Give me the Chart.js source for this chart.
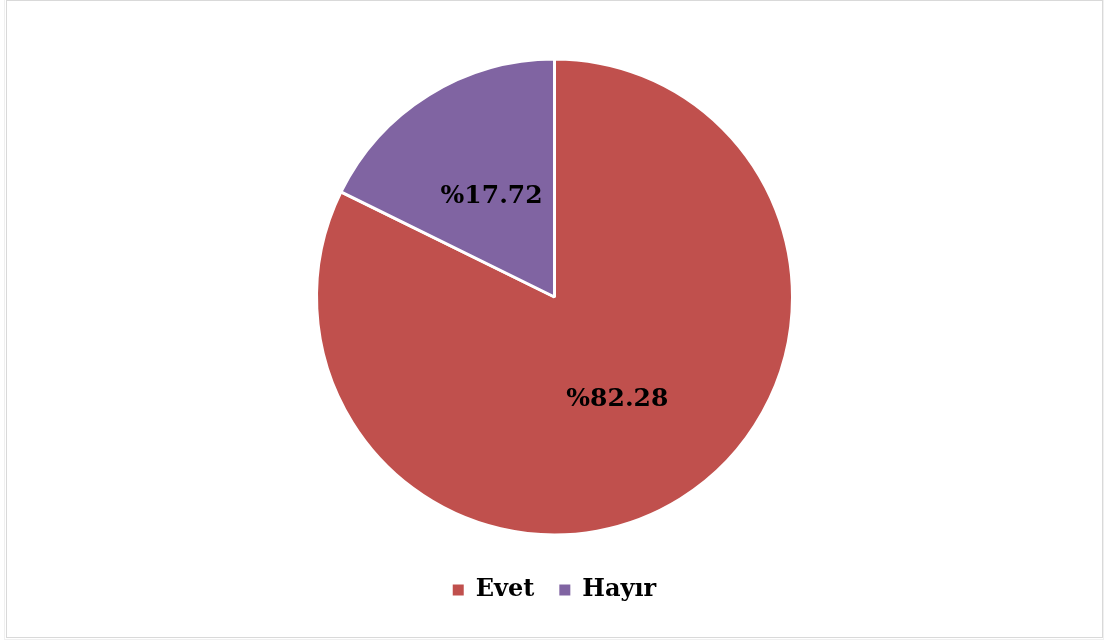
<!DOCTYPE html>
<html>
<head>
<meta charset="utf-8">
<script src="https://cdn.jsdelivr.net/npm/chart.js@4/dist/chart.umd.min.js"></script>
<style>
  html, body { margin: 0; padding: 0; background: #ffffff; }
  #wrap { width: 1107px; height: 641px; position: relative; }
</style>
</head>
<body>
<div id="wrap"><canvas id="chart" width="1107" height="641"></canvas></div>
<script>
// Survey answers (percent)
const categories = ['Evet', 'Hayır'];
const values = [82.28, 17.72];
const sliceColors = ['#C0504D', '#8064A2'];

const labelFont = { family: '"DejaVu Serif", serif', weight: 'bold', size: 25 };
const legendFont = { family: '"DejaVu Serif", serif', weight: 'bold', size: 24 };

// White page with a thin grey frame
const framePlugin = {
  id: 'frame',
  beforeDraw(chart) {
    const ctx = chart.ctx;
    ctx.save();
    ctx.fillStyle = '#ffffff';
    ctx.fillRect(0, 0, chart.width, chart.height);
    ctx.strokeStyle = '#f0f0f0';
    ctx.lineWidth = 1;
    ctx.strokeRect(4.5, -1.5, 1099, 641);
    ctx.strokeStyle = '#d9d9d9';
    ctx.strokeRect(6.5, 0.5, 1096, 637);
    ctx.restore();
  }
};

// Percentage text at the middle of each slice
const sliceLabelPlugin = {
  id: 'sliceLabels',
  afterDatasetsDraw(chart) {
    const ctx = chart.ctx;
    const meta = chart.getDatasetMeta(0);
    ctx.save();
    ctx.font = `${labelFont.weight} ${labelFont.size}px ${labelFont.family}`;
    ctx.fillStyle = '#000000';
    ctx.textAlign = 'center';
    ctx.textBaseline = 'middle';
    meta.data.forEach((arc, i) => {
      const p = arc.getCenterPoint();
      ctx.fillText('%' + values[i].toFixed(2), p.x, p.y + 1);
    });
    ctx.restore();
  }
};

new Chart(document.getElementById('chart'), {
  type: 'pie',
  data: {
    labels: categories,
    datasets: [{
      data: values,
      backgroundColor: sliceColors,
      borderColor: '#ffffff',
      borderWidth: 3,
      radius: 238
    }]
  },
  options: {
    responsive: false,
    animation: false,
    layout: { padding: { top: 41, left: 2, right: 0, bottom: 29 } },
    plugins: {
      tooltip: { enabled: false },
      legend: {
        position: 'bottom',
        labels: {
          font: legendFont,
          color: '#000000',
          boxWidth: 11,
          boxHeight: 11,
          padding: 25,
          generateLabels(chart) {
            return Chart.overrides.pie.plugins.legend.labels.generateLabels(chart)
              .map(l => Object.assign(l, { lineWidth: 0, strokeStyle: 'rgba(0,0,0,0)' }));
          }
        }
      }
    }
  },
  plugins: [framePlugin, sliceLabelPlugin]
});
</script>
</body>
</html>
